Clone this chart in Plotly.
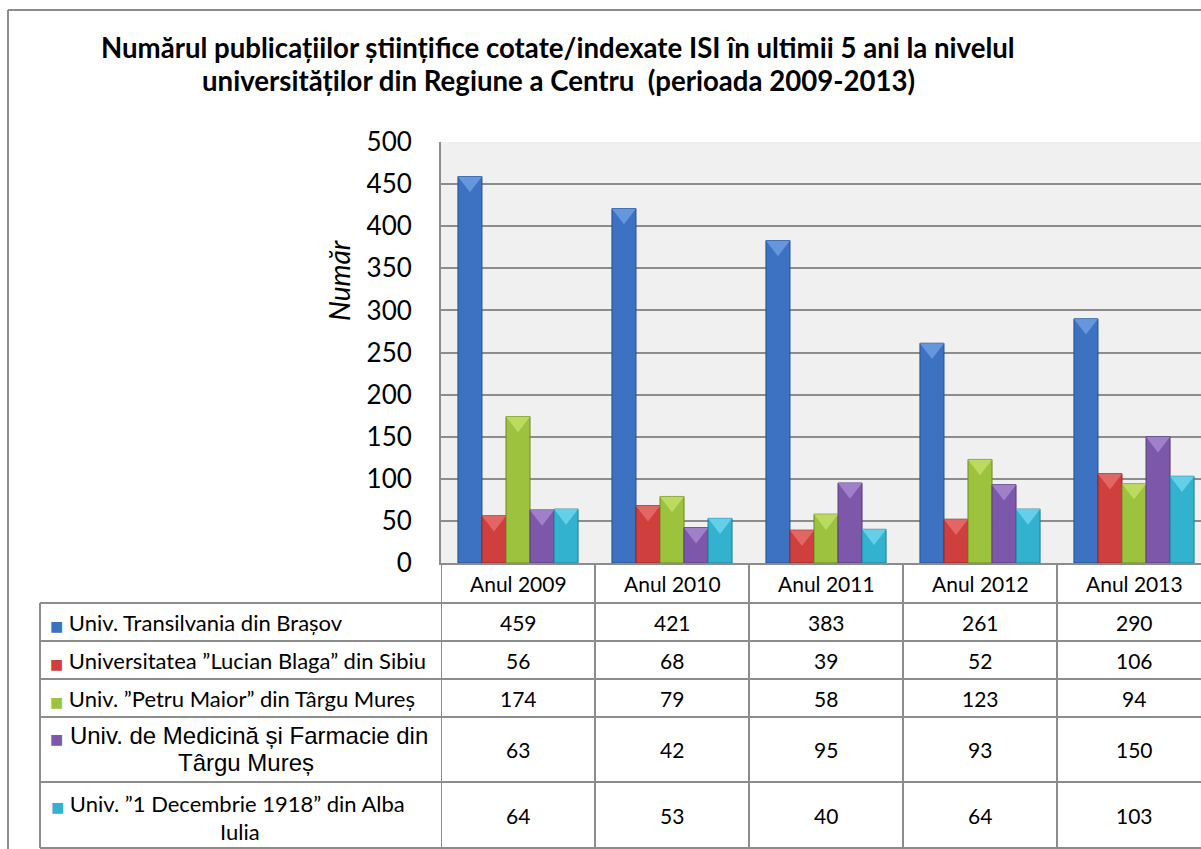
import plotly.graph_objects as go

# ---------------- data ----------------
categories = ["Anul 2009", "Anul 2010", "Anul 2011", "Anul 2012", "Anul 2013"]
series_names = [
    "Univ. Transilvania din Brașov",
    "Universitatea ”Lucian Blaga” din Sibiu",
    "Univ. ”Petru Maior” din Târgu Mureș",
    "Univ. de Medicină și Farmacie din<br>Târgu Mureș",
    "Univ. ”1 Decembrie 1918” din Alba<br>Iulia",
]
transilvania_brasov = [459, 421, 383, 261, 290]
lucian_blaga_sibiu = [56, 68, 39, 52, 106]
petru_maior_tg_mures = [174, 79, 58, 123, 94]
umf_tg_mures = [63, 42, 95, 93, 150]
alba_iulia_1918 = [64, 53, 40, 64, 103]
series_values = [transilvania_brasov, lucian_blaga_sibiu, petru_maior_tg_mures,
                 umf_tg_mures, alba_iulia_1918]
y_ticks = [0, 50, 100, 150, 200, 250, 300, 350, 400, 450, 500]

# ---------------- style ----------------
fill_colors = ["#3d72c2", "#cf3f3d", "#9cc23e", "#7d58aa", "#33b2d0"]
line_colors = ["#23508f", "#8f2a28", "#6c8a28", "#573c7d", "#1e7f98"]
bevel_colors = ["#6d9de0", "#e56e6b", "#c3de66", "#a587cf", "#6cd3ec"]
label_fonts = ["Lato", "Lato", "Lato", "Liberation Sans", "Lato"]
label_sizes = [22, 22, 22, 24, 22]
GRID = "#8c8c8c"
BAR_GAP = 0.22

W, H = 1201, 849
L, R, T, B = 441, 1201, 142, 563  # plot area in pixels
Y_MAX = 500
UNITS_PER_PX = Y_MAX / (B - T)
BEVEL_SIZE = 21  # marker size in px (triangle top edge sits size/4 above centre)


def px(x):
    return (x - L) / (R - L)


def py(y):
    return (B - y) / (B - T)


fig = go.Figure()
for name, vals, fc, lc in zip(series_names, series_values, fill_colors, line_colors):
    fig.add_trace(go.Bar(
        x=categories, y=vals, name=name.replace("<br>", " "),
        marker=dict(color=fc, line=dict(color=lc, width=1)),
        showlegend=False,
    ))
# lighter bevel triangles on top of each bar (grouped like the bars)
for vals, bc in zip(series_values, bevel_colors):
    fig.add_trace(go.Scatter(
        x=categories, y=[v - (BEVEL_SIZE / 4) * UNITS_PER_PX for v in vals],
        mode="markers", hoverinfo="skip", showlegend=False, cliponaxis=False,
        marker=dict(symbol="triangle-down", size=BEVEL_SIZE, color=bc, opacity=0.85,
                    line=dict(width=0)),
    ))

shapes = []
annotations = []
line_style = dict(color=GRID, width=2)

# outer chart border (left and top; right/bottom are cut off)
shapes.append(dict(type="line", xref="paper", yref="paper",
                   x0=px(8), x1=px(8), y0=py(10), y1=py(900), line=line_style))
shapes.append(dict(type="line", xref="paper", yref="paper",
                   x0=px(8), x1=px(1260), y0=py(10), y1=py(10), line=line_style))

# data table rows (pixel boundaries)
header_top, header_bot = 563, 603
row_edges = [603, 641, 679, 717, 782, 848]
table_left = 40

for y in row_edges:
    shapes.append(dict(type="line", xref="paper", yref="paper",
                       x0=px(table_left), x1=px(1260), y0=py(y), y1=py(y),
                       line=line_style))
shapes.append(dict(type="line", xref="paper", yref="paper",
                   x0=px(table_left), x1=px(table_left),
                   y0=py(row_edges[0]), y1=py(row_edges[-1]), line=line_style))
for k in range(len(categories)):
    shapes.append(dict(type="line", xref="x", yref="paper",
                       x0=k - 0.5, x1=k - 0.5, y0=py(header_top), y1=py(row_edges[-1]),
                       line=line_style, layer="above"))

txt_font = dict(family="Lato", size=21, color="#000000")

# header labels
for i, c in enumerate(categories):
    annotations.append(dict(xref="x", yref="paper", x=i, y=py((header_top + header_bot) / 2),
                            xanchor="center", yanchor="middle",
                            text=c, showarrow=False, font=txt_font))

# values + row labels
multi_line_pos = {3: (735, 762, 239, 246), 4: (803, 831, 228, 240)}
for r, (name, vals, fc) in enumerate(zip(series_names, series_values, fill_colors)):
    yc = (row_edges[r] + row_edges[r + 1]) / 2
    for i, v in enumerate(vals):
        annotations.append(dict(xref="x", yref="paper", x=i, y=py(yc),
                                xanchor="center", yanchor="middle",
                                text=str(v), showarrow=False, font=txt_font))
    key = f"<span style='color:{fc};font-family:DejaVu Sans;font-size:14px'>■</span> "
    lines = name.split("<br>")
    lf = dict(family=label_fonts[r], size=label_sizes[r], color="#000000")
    if len(lines) == 1:
        annotations.append(dict(xref="paper", yref="paper", x=px(48), y=py(yc),
                                xanchor="left", yanchor="middle",
                                text=key + lines[0], showarrow=False, font=lf))
    else:
        y1, y2, xc1, xc2 = multi_line_pos[r]
        annotations.append(dict(xref="paper", yref="paper", x=px(xc1), y=py(y1),
                                xanchor="center", yanchor="middle",
                                text=key + lines[0], showarrow=False, font=lf))
        annotations.append(dict(xref="paper", yref="paper", x=px(xc2), y=py(y2),
                                xanchor="center", yanchor="middle",
                                text=lines[1], showarrow=False, font=lf))

# title (two centred lines)
title_lines = ["Numărul publicațiilor științifice cotate/indexate ISI în ultimii 5 ani la nivelul",
               "universităților din Regiune a Centru  (perioada 2009-2013)"]
for t, yy in zip(title_lines, [48, 81]):
    annotations.append(dict(
        xref="paper", yref="paper", x=px(558), y=py(yy), xanchor="center", yanchor="middle",
        text=f"<b>{t}</b>", showarrow=False,
        font=dict(family="Lato", size=27.6, color="#000000"),
    ))
# y-axis title
annotations.append(dict(
    xref="paper", yref="paper", x=px(339), y=py(281), xanchor="center", yanchor="middle",
    text="<i>Număr</i>", textangle=-90, showarrow=False,
    font=dict(family="Lato", size=28, color="#000000"),
))

fig.update_layout(
    width=W, height=H,
    margin=dict(l=L, r=W - R, t=T, b=H - B, pad=0),
    paper_bgcolor="#ffffff", plot_bgcolor="#f0f0f0",
    barmode="group", bargap=BAR_GAP, bargroupgap=0.0,
    scattermode="group", scattergap=BAR_GAP,
    shapes=shapes, annotations=annotations,
    xaxis=dict(type="category", range=[-0.5, 4.435], showticklabels=False,
               showgrid=False, zeroline=False, showline=True,
               linecolor=GRID, linewidth=2),
    yaxis=dict(range=[0, Y_MAX], tickvals=y_ticks, showgrid=True, gridcolor=GRID,
               gridwidth=2, zeroline=False, showline=True, linecolor=GRID, linewidth=2,
               tickfont=dict(family="Lato", size=26, color="#000000"),
               ticklabelstandoff=22),
)

fig.write_html("out.html", config={"displayModeBar": False},
               post_script="document.body.style.margin='0';")
